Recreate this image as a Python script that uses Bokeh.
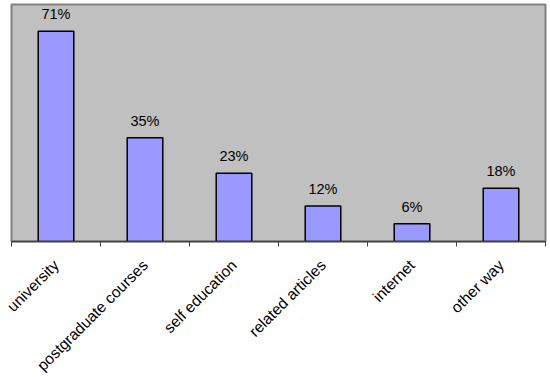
from bokeh.plotting import figure
from bokeh.models import ColumnDataSource, FixedTicker, Range1d, LabelSet
from bokeh.core.properties import value
from bokeh.embed import file_html
from bokeh.resources import INLINE
import math

categories = ["university", "postgraduate courses", "self education",
              "related articles", "internet", "other way"]
values = [71, 35, 23, 12, 6, 18]
value_labels = ["71%", "35%", "23%", "12%", "6%", "18%"]

xpos = [i + 0.5 for i in range(len(categories))]
src = ColumnDataSource(dict(x=xpos, top=values, lab=value_labels))

p = figure(frame_width=534, frame_height=237, output_backend="svg",
           toolbar_location=None, x_range=Range1d(0, len(categories)),
           y_range=Range1d(0, 80), min_border_left=11, min_border_top=4,
           min_border_right=4, min_border_bottom=0)
p.background_fill_color = "#C0C0C0"
p.border_fill_color = "white"
p.outline_line_color = "#808080"
p.outline_line_width = 2
p.xgrid.visible = False
p.ygrid.visible = False
p.yaxis.visible = False

p.vbar(x="x", top="top", width=0.4, bottom=0, source=src,
       fill_color="#9999FF", line_color="black", line_width=1.5)

labels = LabelSet(x="x", y="top", text="lab", source=src, text_align="center",
                  text_baseline="bottom", y_offset=9,
                  text_font=value("Liberation Sans"),
                  text_font_size=value("14.5px"), text_color="black")
p.add_layout(labels)

ax = p.xaxis[0]
ax.ticker = FixedTicker(ticks=xpos, minor_ticks=list(range(len(categories) + 1)))
ax.major_label_overrides = {x: c for x, c in zip(xpos, categories)}
ax.major_tick_out = 0
ax.major_tick_in = 0
ax.minor_tick_out = 5
ax.minor_tick_in = 0
ax.minor_tick_line_color = "#404040"
ax.axis_line_color = "#404040"
ax.axis_line_width = 1.5
ax.major_label_orientation = math.pi / 4
ax.major_label_text_font = "Liberation Sans"
ax.major_label_text_font_size = "15.5px"
ax.major_label_text_color = "black"
ax.major_label_standoff = 16

open("out.html", "w").write(file_html(p, INLINE))
